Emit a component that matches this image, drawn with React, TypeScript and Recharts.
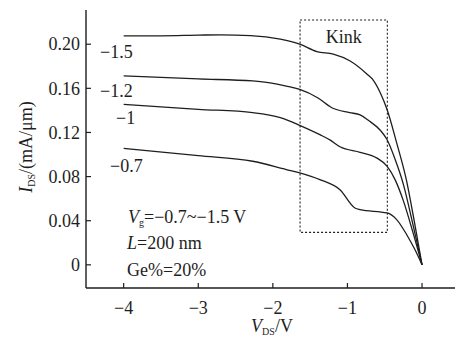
import { LineChart, Line, XAxis, YAxis, ReferenceArea } from "recharts";

// V_DS sample points (V) and drain current (mA/um) for each gate voltage
const vds15 = [-4.0, -3.5, -3.0, -2.7, -2.3, -1.9, -1.64, -1.41, -1.19, -0.97, -0.74, -0.65, -0.56, -0.47, -0.34, -0.21, -0.1, 0];
const ids15 = [0.2075, 0.2076, 0.2082, 0.2085, 0.2078, 0.2045, 0.2, 0.1933, 0.191, 0.185, 0.173, 0.167, 0.156, 0.141, 0.1106, 0.077, 0.038, 0];

const vds12 = [-4.0, -3.0, -2.27, -1.82, -1.64, -1.4, -1.21, -0.97, -0.83, -0.72, -0.56, -0.47, -0.36, -0.25, -0.12, 0];
const ids12 = [0.1712, 0.1685, 0.1667, 0.162, 0.159, 0.1515, 0.1424, 0.138, 0.136, 0.131, 0.122, 0.1136, 0.0955, 0.073, 0.036, 0];

const vds10 = [-4.0, -3.0, -2.27, -1.9, -1.64, -1.37, -1.23, -1.1, -0.83, -0.61, -0.47, -0.36, -0.25, -0.12, 0];
const ids10 = [0.1455, 0.141, 0.138, 0.1335, 0.1265, 0.118, 0.113, 0.107, 0.102, 0.097, 0.0894, 0.077, 0.058, 0.029, 0];

const vds07 = [-4.0, -3.0, -2.27, -1.82, -1.64, -1.37, -1.1, -0.9, -0.83, -0.47, -0.34, -0.205, -0.094, 0];
const ids07 = [0.1055, 0.099, 0.0939, 0.0864, 0.0834, 0.0773, 0.068, 0.0515, 0.05, 0.047, 0.041, 0.0273, 0.0136, 0];

const xTicks = [-4, -3, -2, -1, 0];
const yTicks = [0, 0.04, 0.08, 0.12, 0.16, 0.2];

const toPoints = (v: number[], i: number[]) => v.map((x, k) => ({ v: x, i: i[k] }));

const series = [
  { key: "-1.5", data: toPoints(vds15, ids15) },
  { key: "-1.2", data: toPoints(vds12, ids12) },
  { key: "-1", data: toPoints(vds10, ids10) },
  { key: "-0.7", data: toPoints(vds07, ids07) },
];

const ink = "#1e1e1e";
const serif = "'Liberation Serif', 'Times New Roman', serif";

const fmtX = (v: number) => (v < 0 ? "\u2212" + Math.abs(v) : String(v));
const fmtY = (v: number) => (v === 0 ? "0" : v.toFixed(2));

function YTick({ x, y, payload }: any) {
  return (
    <g>
      <line x1={x + 6} x2={x + 11} y1={y} y2={y} stroke={ink} strokeWidth={1.2} />
      <text x={x} y={y} dy="0.35em" textAnchor="end" fill={ink} fontSize={18} fontFamily={serif}>
        {fmtY(payload.value)}
      </text>
    </g>
  );
}

function XTick({ x, y, payload }: any) {
  return (
    <g>
      <line x1={x} x2={x} y1={y - 6} y2={y - 11} stroke={ink} strokeWidth={1.2} />
      <text x={x} y={y + 7} dy="0.72em" textAnchor="middle" fill={ink} fontSize={18} fontFamily={serif}>
        {fmtX(payload.value)}
      </text>
    </g>
  );
}

const note = (left: number, top: number, extra: any = {}): any => ({
  position: "absolute",
  left,
  top,
  transform: "translateY(-50%)",
  lineHeight: 1,
  whiteSpace: "nowrap",
  fontFamily: serif,
  fontSize: 18,
  color: ink,
  ...extra,
});

const sub: any = { fontSize: 10, fontStyle: "normal", verticalAlign: "-0.25em" };

export default function App() {
  return (
    <div style={{ position: "absolute", left: 0, top: 0, width: 455, height: 341, background: "#fff" }}>
      <LineChart width={455} height={341} margin={{ top: 10, right: 0, bottom: 0, left: 0 }}>
        <XAxis
          type="number"
          dataKey="v"
          domain={[-4.505, 0.442]}
          ticks={xTicks}
          allowDataOverflow
          height={53}
          tickSize={6}
          tickMargin={0}
          tickLine={false}
          axisLine={{ stroke: ink, strokeWidth: 1.4 }}
          tick={<XTick />}
        />
        <XAxis
          xAxisId="top"
          orientation="top"
          type="number"
          domain={[-4.505, 0.442]}
          height={0}
          tick={false}
          tickLine={false}
          axisLine={{ stroke: ink, strokeWidth: 1.4 }}
        />
        <YAxis
          type="number"
          domain={[-0.021, 0.231]}
          ticks={yTicks}
          allowDataOverflow
          width={86}
          tickSize={6}
          tickMargin={0}
          tickLine={false}
          axisLine={{ stroke: ink, strokeWidth: 1.4 }}
          tick={<YTick />}
        />
        <ReferenceArea
          x1={-1.635}
          x2={-0.465}
          y1={0.0294}
          y2={0.222}
          fill="none"
          fillOpacity={0}
          stroke={ink}
          strokeWidth={1.1}
          strokeDasharray="2 2"
          label={{ value: "Kink", position: "insideTop", offset: 10, fontSize: 18, fill: ink, fontFamily: serif }}
        />
        {series.map((s) => (
          <Line
            key={s.key}
            data={s.data}
            dataKey="i"
            type="monotone"
            stroke={ink}
            strokeWidth={1.3}
            dot={false}
            isAnimationActive={false}
          />
        ))}
      </LineChart>

      <div style={note(100, 52)}>{"\u22121.5"}</div>
      <div style={note(100, 91)}>{"\u22121.2"}</div>
      <div style={note(116, 118)}>{"\u22121"}</div>
      <div style={note(110, 166)}>{"\u22120.7"}</div>

      <div style={note(128, 218)}>
        <i>V</i>
        <span style={sub}>g</span>=−0.7~−1.5 V
      </div>
      <div style={note(127, 243)}>
        <i>L</i>=200 nm
      </div>
      <div style={note(127, 270)}>Ge%=20%</div>

      <div style={note(272, 327, { transform: "translate(-50%, -50%)" })}>
        <i>V</i>
        <span style={sub}>DS</span>/V
      </div>
      <div style={note(27, 147, { transform: "translate(-50%, -50%) rotate(-90deg)" })}>
        <i>I</i>
        <span style={sub}>DS</span>/(mA/μm)
      </div>
    </div>
  );
}
